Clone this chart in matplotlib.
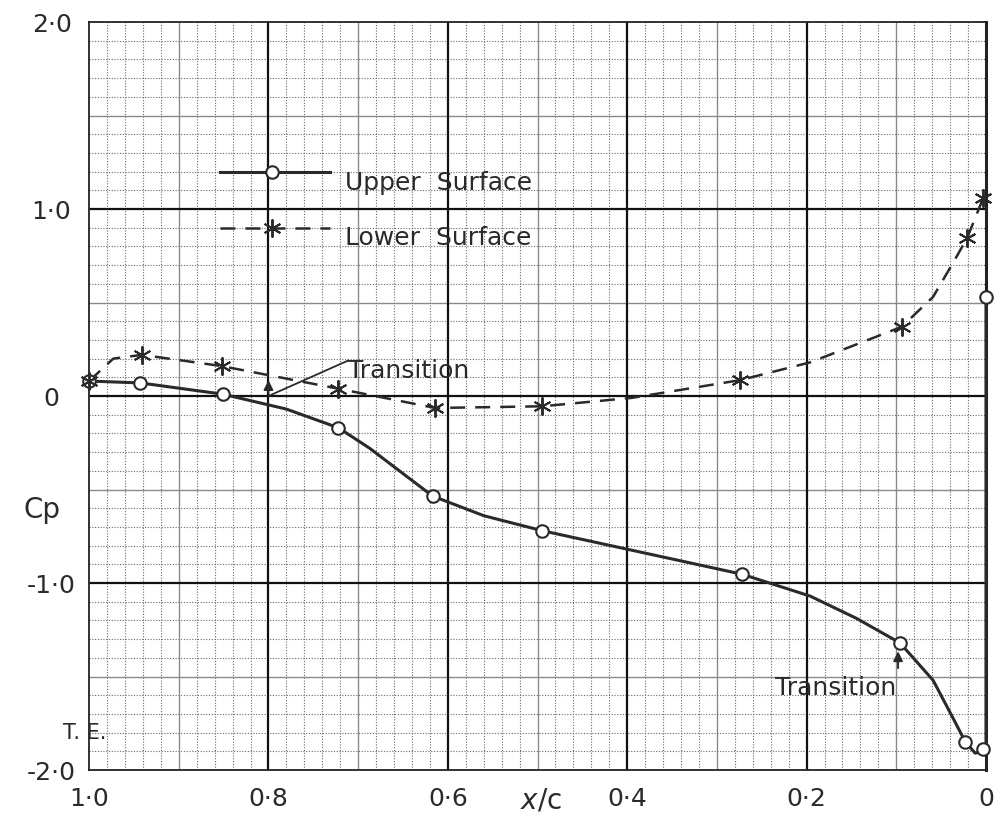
import numpy as np
import matplotlib.pyplot as plt

plt.rcParams['font.family'] = ['DejaVu Sans']

# measured points (x/c, Cp)
upper_x = [1.0, 0.943, 0.851, 0.722, 0.617, 0.495, 0.272, 0.096, 0.023, 0.003, 0.0]
upper_cp = [0.08, 0.07, 0.01, -0.17, -0.535, -0.72, -0.953, -1.32, -1.85, -1.89, 0.53]
lower_x = [1.0, 0.941, 0.852, 0.723, 0.614, 0.495, 0.274, 0.094, 0.021, 0.003]
lower_cp = [0.08, 0.22, 0.16, 0.04, -0.064, -0.055, 0.085, 0.37, 0.845, 1.06]

# faired curves
upper_curve_x = [1.0, 0.943, 0.851, 0.78, 0.722, 0.687, 0.617, 0.56, 0.495, 0.272, 0.196,
                 0.144, 0.096, 0.059, 0.037, 0.023, 0.012, 0.003, 0.0, 0.0]
upper_curve_cp = [0.08, 0.07, 0.01, -0.07, -0.17, -0.28, -0.535, -0.64, -0.72, -0.953,
                  -1.07, -1.19, -1.32, -1.52, -1.72, -1.85, -1.91, -1.90, -1.90, 0.53]
lower_curve_x = [1.0, 0.973, 0.941, 0.852, 0.723, 0.614, 0.495, 0.395, 0.274, 0.196,
                 0.094, 0.059, 0.037, 0.021, 0.003]
lower_curve_cp = [0.08, 0.20, 0.22, 0.16, 0.04, -0.064, -0.055, -0.01, 0.085, 0.18,
                  0.37, 0.53, 0.71, 0.845, 1.06]

x_ticks = [1.0, 0.8, 0.6, 0.4, 0.2, 0.0]
x_labels = ['1·0', '0·8', '0·6', '0·4', '0·2', '0']
y_ticks = [2.0, 1.0, 0.0, -1.0, -2.0]
y_labels = ['2·0', '1·0', '0', '-1·0', '-2·0']

ink = '#2a2a2a'
star = (6, 2, 0)

fig = plt.figure(figsize=(10.01, 8.31), dpi=100)
ax = fig.add_axes([0.089, 0.0734, 0.896, 0.9001])
ax.set_xlim(1.0, 0.0)
ax.set_ylim(-2.0, 2.0)

# graph paper
for gx in np.arange(0.02, 1.0, 0.02):
    if abs(gx / 0.2 - round(gx / 0.2)) < 1e-6:
        ax.axvline(gx, color='#111111', lw=1.6, zorder=1)
    elif abs(gx / 0.1 - round(gx / 0.1)) < 1e-6:
        ax.axvline(gx, color='#8a8a8a', lw=1.0, zorder=0)
    else:
        ax.axvline(gx, color='#6a6a6a', lw=0.8, ls=(0, (1, 1.5)), zorder=0)
for gy in np.arange(-1.9, 2.0, 0.1):
    if abs(gy - round(gy)) < 1e-6:
        ax.axhline(gy, color='#111111', lw=1.6, zorder=1)
    elif abs(gy * 2 - round(gy * 2)) < 1e-6:
        ax.axhline(gy, color='#8a8a8a', lw=1.0, zorder=0)
    else:
        ax.axhline(gy, color='#6a6a6a', lw=0.8, ls=(0, (1, 1.5)), zorder=0)
for s in ax.spines.values():
    s.set_color('#222222')
    s.set_linewidth(1.3)
ax.spines['right'].set_linewidth(2.2)
ax.spines['top'].set_linestyle((0, (3, 1)))

# data
ax.plot(upper_curve_x, upper_curve_cp, color=ink, lw=2.2, zorder=3, clip_on=False)
ax.plot(upper_x, upper_cp, ls='none', marker='o', ms=9, mfc='white', mec=ink, mew=1.5,
        zorder=4, clip_on=False)
ax.plot(lower_curve_x, lower_curve_cp, color=ink, lw=1.8, ls=(0, (6, 4)), zorder=3,
        clip_on=False)
ax.plot(lower_x, lower_cp, ls='none', marker=star, ms=13, mec=ink, mew=1.4,
        zorder=4, clip_on=False)

# key
ax.plot([0.854, 0.731], [1.2, 1.2], color=ink, lw=2.2, zorder=3)
ax.plot([0.796], [1.2], marker='o', ms=9, mfc='white', mec=ink, mew=1.5, zorder=4)
ax.text(0.715, 1.14, 'Upper  Surface', fontsize=18, color=ink, va='center', ha='left')
ax.plot([0.854, 0.731], [0.9, 0.9], color=ink, lw=1.8, ls=(0, (6, 4)), zorder=3)
ax.plot([0.796], [0.9], marker=star, ms=13, mec=ink, mew=1.4, zorder=4)
ax.text(0.715, 0.845, 'Lower  Surface', fontsize=18, color=ink, va='center', ha='left')

# transition marks
ax.annotate('', xy=(0.8, 0.1), xytext=(0.8, 0.0),
            arrowprops=dict(arrowstyle='-|>', color=ink, lw=1.4, mutation_scale=14))
ax.plot([0.8, 0.711], [0.0, 0.19], color=ink, lw=1.3)
ax.text(0.711, 0.135, 'Transition', fontsize=18, color=ink, va='center', ha='left')
ax.annotate('', xy=(0.098, -1.35), xytext=(0.098, -1.47),
            arrowprops=dict(arrowstyle='-|>', color=ink, lw=1.4, mutation_scale=14))
ax.text(0.100, -1.56, 'Transition', fontsize=18, color=ink, va='center', ha='right')

# axes labels
ax.set_xticks(x_ticks)
ax.set_xticklabels(x_labels, fontsize=18, color=ink)
ax.set_yticks(y_ticks)
ax.set_yticklabels(y_labels, fontsize=18, color=ink, ha='center')
ax.tick_params(axis='x', length=0, pad=12)
ax.tick_params(axis='y', length=0, pad=27)
fig.text(0.54, 0.037, r'$x$/c', fontsize=20, color=ink, ha='center', va='center')
fig.text(0.042, 0.386, 'Cp', fontsize=20, color=ink, ha='center', va='center')
fig.text(0.085, 0.118, 'T. E.', fontsize=15, color=ink, ha='center', va='center')

plt.savefig('out.png', dpi=100)
